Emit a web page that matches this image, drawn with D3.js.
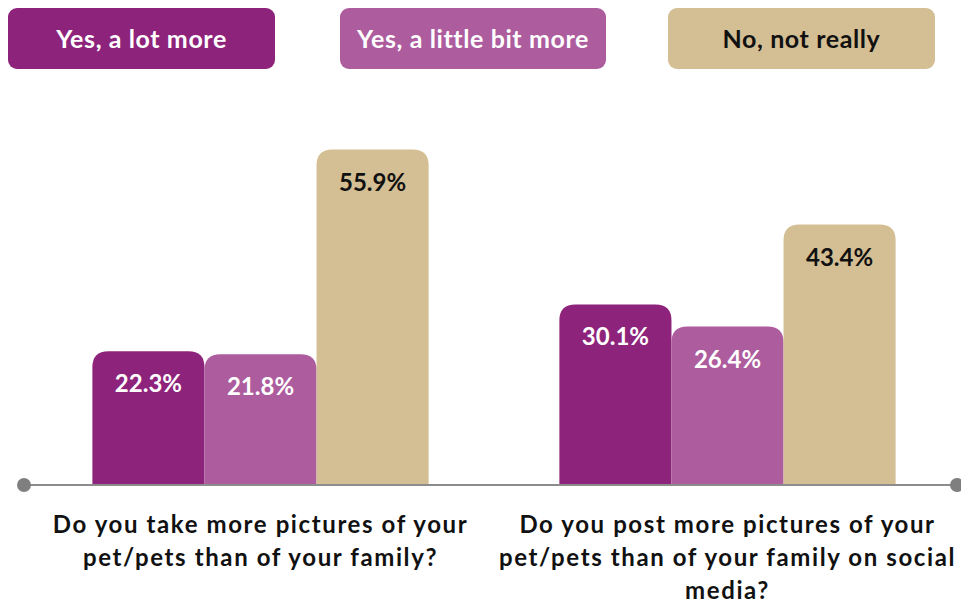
<!DOCTYPE html>
<html><head><meta charset="utf-8">
<script src="https://cdn.jsdelivr.net/npm/d3@7/dist/d3.min.js"></script>
<style>body{margin:0;background:#fff}svg{display:block}text{font-family:Lato,"Open Sans",sans-serif;font-weight:700}</style>
</head><body><svg id="c" width="961" height="610"></svg>
<script>
const categories = ["Do you take more pictures of your pet/pets than of your family?", "Do you post more pictures of your pet/pets than of your family on social media?"];
const categoryLines = [["Do you take more pictures of your", "pet/pets than of your family?"], ["Do you post more pictures of your", "pet/pets than of your family on social", "media?"]];
const seriesNames = ["Yes, a lot more", "Yes, a little bit more", "No, not really"];
const lotMore = [22.3, 30.1];
const littleMore = [21.8, 26.4];
const notReally = [55.9, 43.4];
const colors = ["#8E237B", "#AD5C9E", "#D4BE93"];
const labelColors = ["#ffffff", "#ffffff", "#111111"];

const series = [lotMore, littleMore, notReally];
const svg = d3.select("#c");
const x0 = d3.scaleBand().domain(categories).range([27, 961]).paddingInner(0.28).paddingOuter(0.14);
const x1 = d3.scaleBand().domain(seriesNames).range([0, x0.bandwidth()]).padding(0);
const y = d3.scaleLinear().domain([0, 60]).range([485, 125]);

function topRounded(x, yTop, w, h, r) {
  r = Math.min(r, h, w / 2);
  return `M${x},${yTop + h}V${yTop + r}Q${x},${yTop} ${x + r},${yTop}H${x + w - r}Q${x + w},${yTop} ${x + w},${yTop + r}V${yTop + h}Z`;
}

const groups = svg.selectAll("g.grp").data(categories).join("g").attr("class", "grp")
  .attr("transform", d => `translate(${x0(d)},0)`);

seriesNames.forEach((s, si) => {
  groups.append("path")
    .attr("d", (d, ci) => topRounded(x1(s), y(series[si][ci]), x1.bandwidth(), y(0) - y(series[si][ci]), 16))
    .attr("fill", colors[si]);
  groups.append("text")
    .attr("x", x1(s) + x1.bandwidth() / 2)
    .attr("y", (d, ci) => y(series[si][ci]) + 41)
    .attr("text-anchor", "middle")
    .attr("font-size", 24)
    .attr("fill", labelColors[si])
    .text((d, ci) => series[si][ci].toFixed(1) + "%");
});

// axis line
svg.append("line").attr("x1", 24).attr("x2", 957).attr("y1", y(0)).attr("y2", y(0))
  .attr("stroke", "#8c8c8c").attr("stroke-width", 2);
svg.append("circle").attr("cx", 24).attr("cy", y(0)).attr("r", 7).attr("fill", "#7f7f7f");
svg.append("circle").attr("cx", 957).attr("cy", y(0)).attr("r", 7).attr("fill", "#7f7f7f");

// category labels
categories.forEach((c, ci) => {
  const t = svg.append("text").attr("text-anchor", "middle").attr("font-size", 24)
    .attr("letter-spacing", 1.6).attr("fill", "#111");
  categoryLines[ci].forEach((ln, li) => {
    t.append("tspan").attr("x", x0(c) + x0.bandwidth() / 2).attr("y", 533 + li * 33).text(ln);
  });
});

// legend
const legX = [8, 340, 668];
const legW = [267, 266, 267];
seriesNames.forEach((s, si) => {
  svg.append("rect").attr("x", legX[si]).attr("y", 8).attr("width", legW[si]).attr("height", 61)
    .attr("rx", 9).attr("fill", colors[si]);
  svg.append("text").attr("x", legX[si] + legW[si] / 2).attr("y", 48).attr("text-anchor", "middle")
    .attr("font-size", 25).attr("letter-spacing", 0.6).attr("fill", labelColors[si]).text(s);
});
</script></body></html>
